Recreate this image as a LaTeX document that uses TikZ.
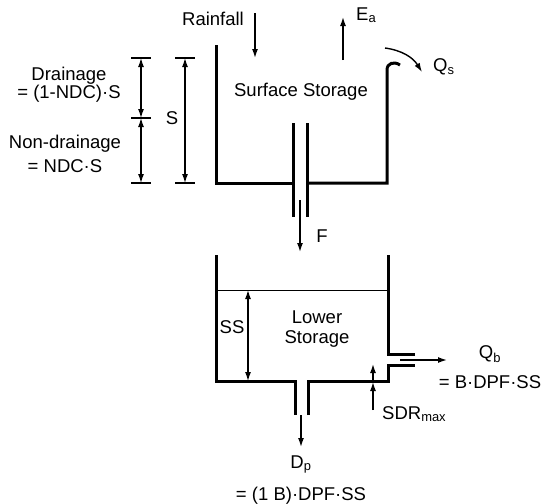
\documentclass[tikz,border=0pt]{standalone}
\usepackage{fontspec}
\setmainfont{Liberation Sans}
\usetikzlibrary{arrows.meta,calc}
\newcommand\lblfont{\fontsize{18.5}{16}\selectfont}

\begin{document}
\begin{tikzpicture}[x=1pt,y=-1pt,>={Latex[length=9pt,width=6pt]},
  wall/.style={line width=3pt,line join=miter},
  flow/.style={->,line width=1.4pt},
  dim/.style={<->,line width=1.2pt},
  tick/.style={line width=1.2pt},
  lbl/.style={font=\lblfont,inner sep=0pt,align=center}]
\useasboundingbox (0,0) rectangle (542,504);
% upper tank
\draw[wall] (216,45) -- (216,183) -- (293,183);
\draw[wall] (293,123) -- (293,217);
\draw[wall] (307,123) -- (307,217);
\draw[wall] (307,183) -- (387,183) -- (387,70)
  .. controls (387,63) and (394,61) .. (400,65);
% lower tank
\draw[wall] (216,255) -- (216,381) -- (295,381) -- (295,415);
\draw[wall] (308,415) -- (308,381) -- (388,381) -- (388,365) -- (415,365);
\draw[wall] (415,354) -- (388,354) -- (388,255);
\draw[line width=1pt] (216,290) -- (388,290);
% labels
\node[lbl] (rain) at (213,19) {Rainfall};
\node[lbl,anchor=west] (evap) at (356,15) {E\textsubscript{a}};
\node[lbl,anchor=west] (qs) at (433,67) {Q\textsubscript{s}};
\node[lbl] (surf) at (301,92) {Surface Storage};
\node[lbl] (drain) at (69,85) {Drainage\\= (1-NDC)·S};
\node[lbl] (nondrain) at (65,154) {Non-drainage\\[6pt]= NDC·S};
\node[lbl] (slbl) at (172,118) {S};
\node[lbl] (flbl) at (322,236) {F};
\node[lbl] (lower) at (317,329) {Lower\\[4pt]Storage};
\node[lbl] (sslbl) at (232,327) {SS};
\node[lbl] (qb) at (490,367) {Q\textsubscript{b}\\[12pt]= B·DPF·SS};
\node[lbl,anchor=west] (sdr) at (382,414) {SDR\textsubscript{max}};
\node[lbl] (dp) at (301,480) {D\textsubscript{p}\\[13pt]= (1 B)·DPF·SS};
% flows
\coordinate (rain0) at (255,13); \coordinate (rain1) at (255,58);
\coordinate (evap0) at (343,60); \coordinate (evap1) at (343,17);
\coordinate (qs0) at (385,48);   \coordinate (qs1) at (422,72);
\coordinate (f0) at (300,200);   \coordinate (f1) at (300,252);
\coordinate (qb0) at (400,360);  \coordinate (qb1) at (447,360);
\coordinate (dp0) at (301,415);  \coordinate (dp1) at (301,447);
\draw[flow] (rain0) -- (rain1);
\draw[flow] (evap0) -- (evap1);
\draw[flow] (qs0) to[bend left=25] (qs1);
\draw[flow] (f0) -- (f1);
\draw[flow] (qb0) -- (qb1);
\draw[flow] (dp0) -- (dp1);
% SDRmax
\coordinate (sdr0) at (373,410); \coordinate (sdr1) at (373,382);
\coordinate (sdr2) at (373,364);
\draw[flow] (sdr0) -- (sdr1);
\draw[flow] (sdr1) -- (sdr2);
% storage dimensions
\foreach \y/\n in {58/dt,118/dm,183/db}{
  \coordinate (\n) at (141,\y);
  \draw[tick] ($(\n)+(-10,0)$) -- ($(\n)+(10,0)$);}
\foreach \y/\n in {58/st,183/sb}{
  \coordinate (\n) at (185,\y);
  \draw[tick] ($(\n)+(-10,0)$) -- ($(\n)+(10,0)$);}
\draw[dim] (dt) -- (dm);
\draw[dim] (dm) -- (db);
\draw[dim] (st) -- (sb);
\coordinate (sst) at (248,290); \coordinate (ssb) at (248,381);
\draw[dim] (sst) -- (ssb);
\end{tikzpicture}
\end{document}
